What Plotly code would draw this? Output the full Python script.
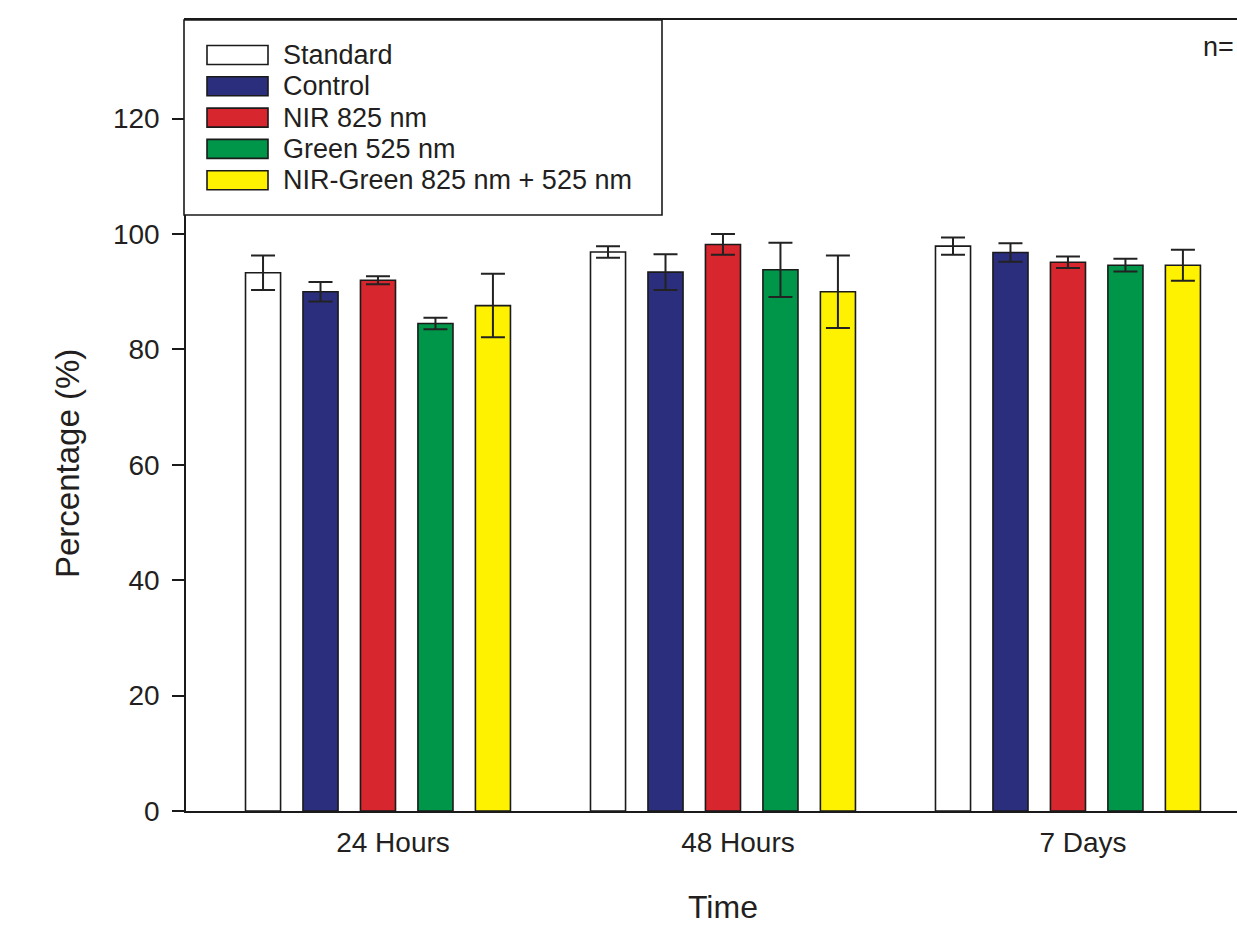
import plotly.graph_objects as go

# ---- data ----
groups = ["24 Hours", "48 Hours", "7 Days"]
series = ["Standard", "Control", "NIR 825 nm", "Green 525 nm", "NIR-Green 825 nm + 525 nm"]
colors = ["#ffffff", "#2a2e7c", "#d7262d", "#00964a", "#fff200"]

standard = [93.3, 96.9, 97.9]
control = [90.0, 93.4, 96.8]
nir = [92.0, 98.2, 95.1]
green = [84.5, 93.8, 94.6]
nir_green = [87.6, 90.0, 94.6]

standard_err = [3.0, 1.0, 1.5]
control_err = [1.7, 3.1, 1.6]
nir_err = [0.7, 1.8, 1.0]
green_err = [1.0, 4.7, 1.1]
nir_green_err = [5.5, 6.3, 2.7]

values = [standard, control, nir, green, nir_green]
errors = [standard_err, control_err, nir_err, green_err, nir_green_err]

yticks = [0, 20, 40, 60, 80, 100, 120]

W, H = 1237, 927
ML, MR, MT, MB = 186, 0, 20, 116
PW, PH = W - ML - MR, H - MT - MB
FONT = "Liberation Sans, Arial, sans-serif"
TXT = "#231f20"

def px_x(px):
    return (px - ML) / PW

def px_y(py):
    return (H - MB - py) / PH

fig = go.Figure()
xpos = list(range(len(groups)))
for name, col, vals, errs in zip(series, colors, values, errors):
    fig.add_trace(go.Bar(
        x=xpos, y=vals, name=name, showlegend=False,
        marker=dict(color=col, line=dict(color="#1a1a1a", width=1.6)),
        error_y=dict(type="data", array=errs, visible=True,
                     color="#222222", thickness=2, width=12),
    ))

# manual legend (box + swatches + labels)
shapes = [dict(type="rect", xref="paper", yref="paper",
               x0=px_x(184), x1=px_x(662), y0=px_y(215), y1=px_y(20),
               line=dict(color="#1a1a1a", width=1.6), fillcolor="white", layer="above")]
annotations = []
row0, rstep = 55, 31.3
for i, (name, col) in enumerate(zip(series, colors)):
    cy = row0 + i * rstep
    shapes.append(dict(type="rect", xref="paper", yref="paper",
                       x0=px_x(207), x1=px_x(268), y0=px_y(cy + 9.5), y1=px_y(cy - 9.5),
                       line=dict(color="#1a1a1a", width=1.6), fillcolor=col, layer="above"))
    annotations.append(dict(xref="paper", yref="paper", x=px_x(281), y=px_y(cy),
                            text=name, showarrow=False, xanchor="left", yanchor="middle",
                            font=dict(family=FONT, size=27, color=TXT)))

annotations.append(dict(xref="paper", yref="paper", x=px_x(67), y=px_y(464),
                        text="Percentage (%)", textangle=-90, showarrow=False,
                        xanchor="center", yanchor="middle",
                        font=dict(family=FONT, size=33, color=TXT)))
annotations.append(dict(xref="paper", yref="paper", x=px_x(723), y=px_y(907),
                        text="Time", showarrow=False, xanchor="center", yanchor="middle",
                        font=dict(family=FONT, size=32, color=TXT)))
annotations.append(dict(xref="paper", yref="paper", x=px_x(1201), y=px_y(47),
                        text="n=", showarrow=False, xanchor="left", yanchor="middle",
                        font=dict(family=FONT, size=27, color=TXT)))

fig.update_layout(
    width=W, height=H,
    margin=dict(l=ML, r=MR, t=MT, b=MB, pad=0),
    paper_bgcolor="white", plot_bgcolor="white",
    barmode="group", bargap=0.167, bargroupgap=0.39,
    shapes=shapes, annotations=annotations,
    font=dict(family=FONT, color=TXT),
)
fig.update_xaxes(
    range=[-0.5565, 2.49], tickvals=xpos, ticktext=groups, ticks="",
    showline=True, linecolor="#1a1a1a", linewidth=1.6, mirror=True,
    showgrid=False, zeroline=False,
    tickfont=dict(family=FONT, size=28, color=TXT),
    ticklabelshift=15, ticklabelstandoff=6,
)
fig.update_yaxes(
    range=[0, 137.1], tickvals=yticks, ticks="outside", ticklen=12, tickwidth=1.6,
    tickcolor="#1a1a1a", showline=True, linecolor="#1a1a1a", linewidth=1.6,
    showgrid=False, zeroline=False,
    tickfont=dict(family=FONT, size=28, color=TXT), ticklabelstandoff=7,
)

fig.write_html("out.html", config={"displayModeBar": False},
               post_script="document.body.style.margin='0';document.body.style.overflow='hidden';")
